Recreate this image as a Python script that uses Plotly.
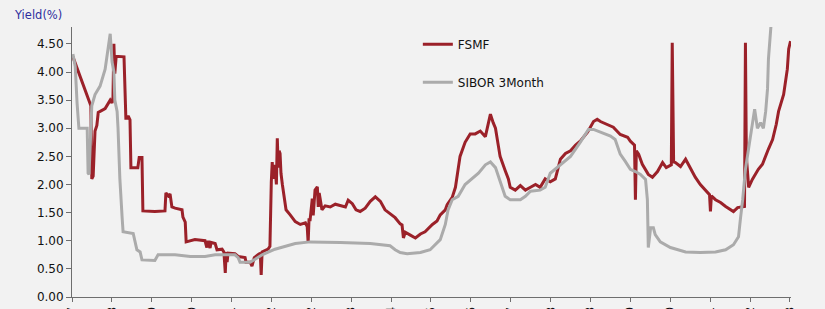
import plotly.graph_objects as go

# ---- data (decimal years, yield %) ----
fsmf_year = [2007.70, 2008.09, 2008.11, 2008.14, 2008.18, 2008.22, 2008.25, 2008.40, 2008.51, 2008.55,
             2008.57, 2008.59, 2008.61, 2008.64, 2008.81, 2008.83, 2008.85, 2008.88, 2008.90, 2008.94,
             2008.96, 2009.11, 2009.14, 2009.20, 2009.22, 2009.48, 2009.70, 2009.72, 2009.77, 2009.81,
             2009.85, 2009.92, 2010.07, 2010.09, 2010.14, 2010.16, 2010.35, 2010.57, 2010.61, 2010.64,
             2010.68, 2010.70, 2010.79, 2010.83, 2010.94, 2010.98, 2011.01, 2011.03, 2011.05, 2011.07,
             2011.22, 2011.29, 2011.44, 2011.46, 2011.55, 2011.59, 2011.64, 2011.72, 2011.77, 2011.79,
             2011.81, 2011.94, 2011.98, 2012.01, 2012.03, 2012.05, 2012.09, 2012.12, 2012.14, 2012.16,
             2012.18, 2012.20, 2012.22, 2012.25, 2012.27, 2012.33, 2012.42, 2012.53, 2012.64, 2012.75,
             2012.79, 2012.81, 2012.83, 2012.85, 2012.90, 2012.92, 2012.96, 2013.01, 2013.03, 2013.05,
             2013.07, 2013.11, 2013.18, 2013.29, 2013.40, 2013.51, 2013.62, 2013.68, 2013.77, 2013.85,
             2013.94, 2014.05, 2014.16, 2014.27, 2014.38, 2014.48, 2014.59, 2014.70, 2014.81, 2014.85,
             2014.88, 2014.92, 2015.03, 2015.14, 2015.25, 2015.35, 2015.51, 2015.61, 2015.68, 2015.79,
             2015.83, 2015.94, 2016.01, 2016.07, 2016.11, 2016.22, 2016.33, 2016.44, 2016.55, 2016.66,
             2016.72, 2016.77, 2016.83, 2016.88, 2016.94, 2016.98, 2017.09, 2017.16, 2017.20, 2017.31,
             2017.42, 2017.53, 2017.64, 2017.75, 2017.85, 2017.96, 2018.07, 2018.18, 2018.29, 2018.40,
             2018.51, 2018.62, 2018.72, 2018.88, 2019.01, 2019.09, 2019.16, 2019.31, 2019.44, 2019.59,
             2019.75, 2019.81, 2019.90, 2019.92, 2019.94, 2019.99, 2020.07, 2020.20, 2020.29, 2020.40,
             2020.51, 2020.59, 2020.70, 2020.72, 2020.75, 2020.79, 2020.90, 2021.01, 2021.12, 2021.22,
             2021.33, 2021.44, 2021.53, 2021.55, 2021.57, 2021.66, 2021.77, 2021.88, 2021.98, 2022.05,
             2022.14, 2022.29, 2022.31, 2022.33, 2022.38, 2022.46, 2022.59, 2022.68, 2022.81, 2022.90,
             2022.98, 2023.03, 2023.14, 2023.18, 2023.22, 2023.25, 2023.29]
fsmf_yield = [4.27, 3.40, 2.10, 2.15, 2.95, 3.05, 3.28, 3.35, 3.50, 3.45,
              3.55, 4.50, 3.97, 4.28, 4.27, 3.50, 3.18, 3.18, 3.22, 3.15,
              2.30, 2.30, 2.48, 2.48, 1.53, 1.52, 1.53, 1.85, 1.80, 1.83,
              1.60, 1.58, 1.55, 1.42, 1.33, 0.98, 1.02, 1.00, 0.88, 1.00,
              0.87, 0.97, 0.95, 0.84, 0.85, 0.80, 0.43, 0.80, 0.62, 0.78,
              0.77, 0.72, 0.70, 0.62, 0.62, 0.55, 0.70, 0.75, 0.78, 0.39,
              0.80, 0.85, 0.90, 2.05, 2.40, 2.10, 2.35, 2.00, 2.82, 2.30,
              2.60, 2.55, 2.20, 2.00, 1.90, 1.55, 1.46, 1.34, 1.29, 1.32,
              1.25, 0.96, 1.40, 1.35, 1.75, 1.45, 1.90, 1.96, 1.60, 1.85,
              1.75, 1.55, 1.62, 1.60, 1.65, 1.62, 1.60, 1.72, 1.66, 1.55,
              1.52, 1.58, 1.70, 1.78, 1.70, 1.55, 1.48, 1.41, 1.30, 1.28,
              1.05, 1.15, 1.10, 1.05, 1.12, 1.16, 1.29, 1.35, 1.46, 1.55,
              1.64, 1.77, 1.95, 2.30, 2.50, 2.75, 2.90, 2.90, 2.95, 2.85,
              3.10, 3.25, 3.10, 3.00, 2.70, 2.50, 2.25, 2.10, 1.95, 1.90,
              1.98, 1.90, 1.95, 2.00, 1.95, 2.10, 2.05, 2.10, 2.45, 2.55,
              2.60, 2.70, 2.77, 2.93, 3.12, 3.16, 3.12, 3.07, 3.02, 2.89,
              2.84, 2.77, 2.70, 1.73, 2.60, 2.54, 2.36, 2.18, 2.13, 2.23,
              2.39, 2.30, 2.35, 4.52, 2.40, 2.39, 2.32, 2.45, 2.27, 2.13,
              2.00, 1.91, 1.82, 1.52, 1.80, 1.73, 1.68, 1.61, 1.55, 1.52,
              1.59, 1.61, 4.52, 2.50, 1.95, 2.09, 2.27, 2.36, 2.63, 2.80,
              3.07, 3.30, 3.60, 3.88, 4.05, 4.41, 4.55]

sibor_year = [2007.70, 2007.75, 2007.79, 2007.83, 2008.01, 2008.03, 2008.05, 2008.07, 2008.11, 2008.18,
              2008.29, 2008.40, 2008.46, 2008.51, 2008.55, 2008.59, 2008.61, 2008.66, 2008.68, 2008.72,
              2008.77, 2008.79, 2009.01, 2009.05, 2009.09, 2009.16, 2009.20, 2009.48, 2009.55, 2009.92,
              2010.25, 2010.57, 2010.79, 2011.22, 2011.29, 2011.33, 2011.55, 2011.66, 2011.81, 2012.09,
              2012.31, 2012.53, 2012.85, 2013.07, 2013.51, 2014.16, 2014.48, 2014.59, 2014.70, 2014.81,
              2014.96, 2015.25, 2015.46, 2015.57, 2015.68, 2015.79, 2015.85, 2015.94, 2016.07, 2016.22,
              2016.51, 2016.66, 2016.77, 2016.88, 2016.98, 2017.09, 2017.20, 2017.42, 2017.53, 2017.64,
              2017.85, 2017.96, 2018.07, 2018.29, 2018.51, 2018.72, 2018.90, 2019.01, 2019.16, 2019.38,
              2019.48, 2019.59, 2019.70, 2019.81, 2019.92, 2020.03, 2020.14, 2020.18, 2020.20, 2020.25,
              2020.31, 2020.35, 2020.46, 2020.68, 2021.01, 2021.33, 2021.66, 2021.88, 2022.05, 2022.16,
              2022.20, 2022.25, 2022.31, 2022.38, 2022.44, 2022.51, 2022.57, 2022.64, 2022.70, 2022.75,
              2022.79, 2022.81, 2022.90]
sibor_yield = [4.32, 4.10, 3.45, 3.00, 3.00, 2.20, 2.18, 2.50, 3.40, 3.60,
               3.75, 4.05, 4.35, 4.68, 4.18, 4.00, 3.50, 3.30, 3.00, 2.10,
               1.40, 1.16, 1.13, 0.96, 0.84, 0.80, 0.66, 0.65, 0.75, 0.75,
               0.72, 0.72, 0.75, 0.75, 0.70, 0.62, 0.62, 0.67, 0.75, 0.85,
               0.90, 0.95, 0.98, 0.98, 0.97, 0.95, 0.93, 0.91, 0.84, 0.79,
               0.77, 0.79, 0.84, 0.93, 1.02, 1.29, 1.55, 1.73, 1.79, 2.00,
               2.20, 2.35, 2.40, 2.30, 2.04, 1.79, 1.73, 1.73, 1.79, 1.88,
               1.90, 1.95, 2.20, 2.35, 2.50, 2.75, 2.98, 2.98, 2.93, 2.86,
               2.80, 2.54, 2.41, 2.27, 2.23, 2.18, 2.09, 1.73, 0.88, 1.23,
               1.23, 1.11, 0.98, 0.88, 0.80, 0.79, 0.80, 0.84, 0.93, 1.07,
               1.38, 1.73, 2.27, 2.63, 2.98, 3.34, 3.00, 3.10, 3.00, 3.30,
               3.70, 4.23, 5.20]

tick_labels = ["Sep-07", "Jul-08", "Jun-09", "Apr-10", "Feb-11", "Jan-12", "Nov-12", "Sep-13",
               "Aug-14", "Jun-15", "May-16", "Mar-17", "Jan-18", "Dec-18", "Oct-19", "Sep-20",
               "Jul-21", "May-22", "Apr-23"]
tick_start = 2007.68
tick_step = 0.8665
tick_vals = [tick_start + i * tick_step for i in range(len(tick_labels))]

RED = "#9b2129"
GRAY = "#ababab"
FONT = "DejaVu Sans"

fig = go.Figure()
fig.add_trace(go.Scatter(x=fsmf_year, y=fsmf_yield, mode="lines", name="FSMF",
                         legendgroup="a", line=dict(color=RED, width=3)))
fig.add_trace(go.Scatter(x=sibor_year, y=sibor_yield, mode="lines", name="SIBOR 3Month",
                         legendgroup="b", line=dict(color=GRAY, width=3)))

fig.update_layout(
    width=825, height=309,
    margin=dict(l=72, r=34, t=27, b=12),
    paper_bgcolor="#f2f2f2", plot_bgcolor="#f2f2f2",
    font=dict(family=FONT, size=12, color="#111111"),
    showlegend=True,
    legend=dict(x=0.481, y=0.99, xanchor="left", yanchor="top",
                bgcolor="rgba(0,0,0,0)", font=dict(size=12, color="#111111"),
                tracegroupgap=19),
    annotations=[dict(text="Yield(%)", xref="paper", yref="paper", x=-0.0834, y=1.044,
                      xanchor="left", yanchor="middle", showarrow=False,
                      font=dict(family=FONT, size=11.5, color="#2e2e9e"))],
)
fig.update_xaxes(range=[2007.68, 2023.30], showgrid=False, zeroline=False,
                 showline=True, linecolor="#6e6e6e", linewidth=1,
                 ticks="outside", ticklen=4, tickcolor="#6e6e6e",
                 tickvals=tick_vals, ticktext=tick_labels, tickangle=-90,
                 tickfont=dict(family=FONT, size=12, color="#111111"),
                 automargin=False)
fig.update_yaxes(range=[0, 4.8], showgrid=False, zeroline=False,
                 showline=True, linecolor="#6e6e6e", linewidth=1,
                 ticks="outside", ticklen=5, tickcolor="#6e6e6e",
                 tick0=0, dtick=0.5, tickformat=".2f",
                 tickfont=dict(family=FONT, size=12, color="#111111"),
                 automargin=False)

fig.write_html("out.html", config={"displayModeBar": False},
               post_script="document.body.style.margin='0';document.body.style.overflow='hidden';")
